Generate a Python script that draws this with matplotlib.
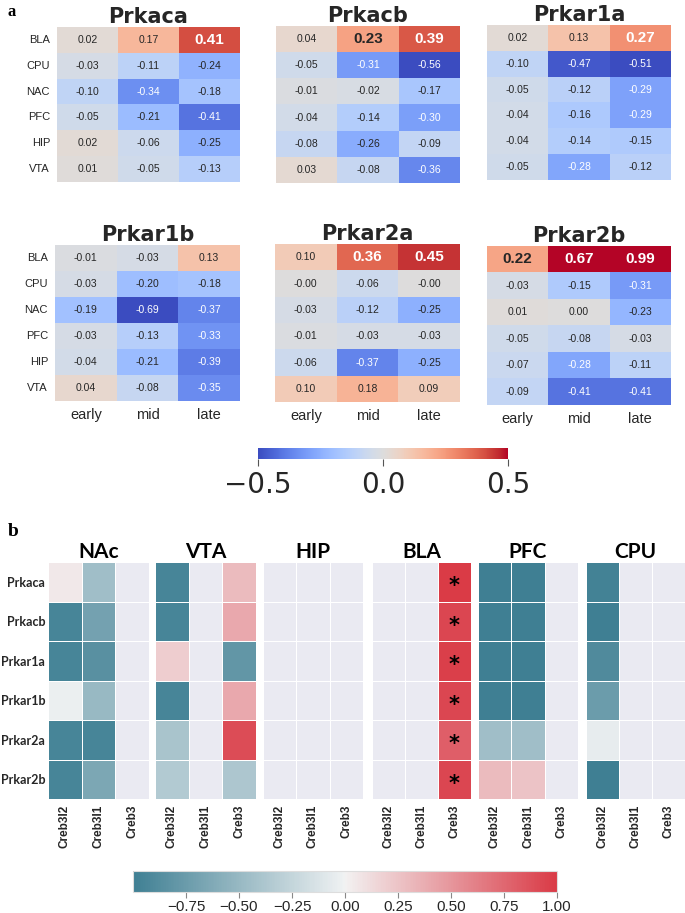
import numpy as np
import matplotlib
matplotlib.use('Agg')
import matplotlib.pyplot as plt
import matplotlib as mpl
import seaborn as sns

nan = np.nan
W, H = 685, 913

# ---------------- Panel a data ----------------
regions_a = ['BLA', 'CPU', 'NAC', 'PFC', 'HIP', 'VTA']
stages = ['early', 'mid', 'late']
genes = ['Prkaca', 'Prkacb', 'Prkar1a', 'Prkar1b', 'Prkar2a', 'Prkar2b']

prkaca = [[0.02, 0.17, 0.41], [-0.03, -0.11, -0.24], [-0.10, -0.34, -0.18],
          [-0.05, -0.21, -0.41], [0.02, -0.06, -0.25], [0.01, -0.05, -0.13]]
prkacb = [[0.04, 0.23, 0.39], [-0.05, -0.31, -0.56], [-0.01, -0.02, -0.17],
          [-0.04, -0.14, -0.30], [-0.08, -0.26, -0.09], [0.03, -0.08, -0.36]]
prkar1a = [[0.02, 0.13, 0.27], [-0.10, -0.47, -0.51], [-0.05, -0.12, -0.29],
           [-0.04, -0.16, -0.29], [-0.04, -0.14, -0.15], [-0.05, -0.28, -0.12]]
prkar1b = [[-0.01, -0.03, 0.13], [-0.03, -0.20, -0.18], [-0.19, -0.69, -0.37],
           [-0.03, -0.13, -0.33], [-0.04, -0.21, -0.39], [0.04, -0.08, -0.35]]
prkar2a = [[0.10, 0.36, 0.45], [-0.0, -0.06, -0.0], [-0.03, -0.12, -0.25],
           [-0.01, -0.03, -0.03], [-0.06, -0.37, -0.25], [0.10, 0.18, 0.09]]
prkar2b = [[0.22, 0.67, 0.99], [-0.03, -0.15, -0.31], [0.01, 0.00, -0.23],
           [-0.05, -0.08, -0.03], [-0.07, -0.28, -0.11], [-0.09, -0.41, -0.41]]

# significant (bold) cells: (row, col)
sig_a = {
    'Prkaca': [(0, 2)],
    'Prkacb': [(0, 1), (0, 2)],
    'Prkar1a': [(0, 2)],
    'Prkar1b': [],
    'Prkar2a': [(0, 1), (0, 2)],
    'Prkar2b': [(0, 0), (0, 1), (0, 2)],
}
data_a = [prkaca, prkacb, prkar1a, prkar1b, prkar2a, prkar2b]

# ---------------- Panel b data ----------------
regions_b = ['NAc', 'VTA', 'HIP', 'BLA', 'PFC', 'CPU']
crebs = ['Creb3l2', 'Creb3l1', 'Creb3']
nac = [[0.05, -0.45, nan], [-0.95, -0.70, nan], [-0.95, -0.85, nan],
       [-0.03, -0.50, nan], [-0.95, -0.95, nan], [-0.95, -0.65, nan]]
vta = [[-0.95, nan, 0.30], [-0.95, nan, 0.40], [0.20, nan, -0.80],
       [-0.95, nan, 0.40], [-0.40, nan, 0.90], [-0.35, nan, -0.38]]
hip = [[nan, nan, nan]] * 6
bla = [[nan, nan, 1.00], [nan, nan, 0.93], [nan, nan, 0.97],
       [nan, nan, 0.93], [nan, nan, 0.80], [nan, nan, 0.93]]
pfc = [[-1.0, -1.0, nan], [-1.0, -1.0, nan], [-1.0, -1.0, nan],
       [-1.0, -1.0, nan], [-0.45, -0.45, nan], [0.30, 0.25, nan]]
cpu = [[-0.97, nan, nan], [-1.0, nan, nan], [-0.90, nan, nan],
       [-0.75, nan, nan], [-0.05, nan, nan], [-1.0, nan, nan]]
data_b = [nac, vta, hip, bla, pfc, cpu]
sig_b = {'BLA': [(r, 2) for r in range(6)]}

cb_a_ticks = [-0.5, 0.0, 0.5]
cb_b_ticks = [-0.75, -0.5, -0.25, 0.0, 0.25, 0.5, 0.75, 1.0]

# ---------------- figure ----------------
fig = plt.figure(figsize=(W / 100, H / 100), dpi=100)


def add_ax(x0, y0, x1, y1):
    return fig.add_axes([x0 / W, 1 - y1 / H, (x1 - x0) / W, (y1 - y0) / H])


SANS = 'Liberation Sans'
TXT = '#262626'

boxes_a = [(57, 27, 240, 182), (276, 26, 460, 183), (487, 25, 671, 180),
           (55, 245, 240, 401), (275, 244, 460, 402), (487, 246, 671, 405)]

for i, (g, d, box) in enumerate(zip(genes, data_a, boxes_a)):
    ax = add_ax(*box)
    arr = np.array(d, dtype=float)
    sns.heatmap(arr, ax=ax, cmap='coolwarm', vmin=-0.5, vmax=0.5, cbar=False,
                annot=True, fmt='.2f',
                annot_kws={'size': 7.5, 'family': SANS})
    for t in ax.texts:
        x, y = t.get_position()
        c, r = int(x), int(y)
        if (r, c) in sig_a[g]:
            t.set_fontsize(11)
            t.set_fontweight('bold')
    ax.set_title(g, fontsize=15, fontweight='bold', color=TXT, pad=3,
                 family='DejaVu Sans')
    ax.set_xlabel('')
    ax.set_ylabel('')
    if i % 3 == 0:
        ax.set_yticks(np.arange(6) + 0.5)
        ax.set_yticklabels(regions_a, rotation=0, fontsize=8, family=SANS,
                           color=TXT)
    else:
        ax.set_yticks([])
    if i >= 3:
        ax.set_xticks(np.arange(3) + 0.5)
        ax.set_xticklabels(stages, fontsize=10.5, family=SANS, color=TXT)
    else:
        ax.set_xticks([])
    ax.tick_params(length=0, pad=5)

# colorbar a
cax = add_ax(258, 448, 508, 459)
sm = mpl.cm.ScalarMappable(norm=mpl.colors.Normalize(-0.5, 0.5), cmap='coolwarm')
cb = fig.colorbar(sm, cax=cax, orientation='horizontal', ticks=cb_a_ticks)
cb.outline.set_visible(False)
cax.tick_params(labelsize=20, length=5, width=0.8, color='#555555',
                labelcolor=TXT)

# ---------------- panel b ----------------
cmap_b = sns.diverging_palette(220, 10, as_cmap=True).with_extremes(bad='#EAEAF2')
norm_b = mpl.colors.Normalize(-1, 1)
boxes_b = [(48, 562, 149, 799), (155, 562, 256, 799), (263, 562, 363, 799),
           (372, 562, 471, 799), (478, 562, 578, 799), (586, 562, 685, 799)]

for i, (reg, d, box) in enumerate(zip(regions_b, data_b, boxes_b)):
    ax = add_ax(*box)
    arr = np.ma.masked_invalid(np.array(d, dtype=float))
    ax.pcolormesh(np.arange(4), np.arange(7), arr, cmap=cmap_b, norm=norm_b,
                  edgecolors='white', linewidth=0.5)
    ax.set_xlim(0, 3)
    ax.set_ylim(6, 0)
    for s in ax.spines.values():
        s.set_visible(False)
    ax.set_title(reg, fontsize=15, fontweight='bold', family='Lato',
                 color='black', pad=3)
    ax.set_xticks(np.arange(3) + 0.5)
    ax.set_xticklabels(crebs, rotation=90, fontsize=8.5, fontweight='bold',
                       family=SANS, color=TXT)
    if i == 0:
        ax.set_yticks(np.arange(6) + 0.5)
        ax.set_yticklabels(genes, fontsize=9, fontweight='bold',
                           family='Lato', color=TXT)
    else:
        ax.set_yticks([])
    ax.tick_params(axis='x', length=0, pad=4)
    ax.tick_params(axis='y', length=0, pad=2)
    for (r, c) in sig_b.get(reg, []):
        ax.text(c + 0.5, r + 0.62, '*', ha='center', va='center',
                fontsize=15, fontweight='bold', color='black',
                family='DejaVu Sans')

cax2 = add_ax(133, 871, 557, 892)
sm2 = mpl.cm.ScalarMappable(norm=norm_b, cmap=cmap_b)
cb2 = fig.colorbar(sm2, cax=cax2, orientation='horizontal', ticks=cb_b_ticks)
cb2.outline.set_edgecolor('#dddddd')
cb2.outline.set_linewidth(0.8)
cax2.set_xticklabels([f'{t:.2f}'.replace('-', '\u2212') for t in cb_b_ticks])
for lbl in cax2.get_xticklabels():
    lbl.set_family(SANS)
cax2.tick_params(labelsize=11, length=4, width=0.8, color='#888888',
                 labelcolor=TXT, pad=2)

# panel letters
fig.text(8 / W, 1 - 12 / H, 'a', fontsize=12, fontweight='bold',
         family='Liberation Serif', va='center', ha='left')
fig.text(8 / W, 1 - 532 / H, 'b', fontsize=14, fontweight='bold',
         family='Liberation Serif', va='center', ha='left')

fig.savefig('out.png', dpi=100)
